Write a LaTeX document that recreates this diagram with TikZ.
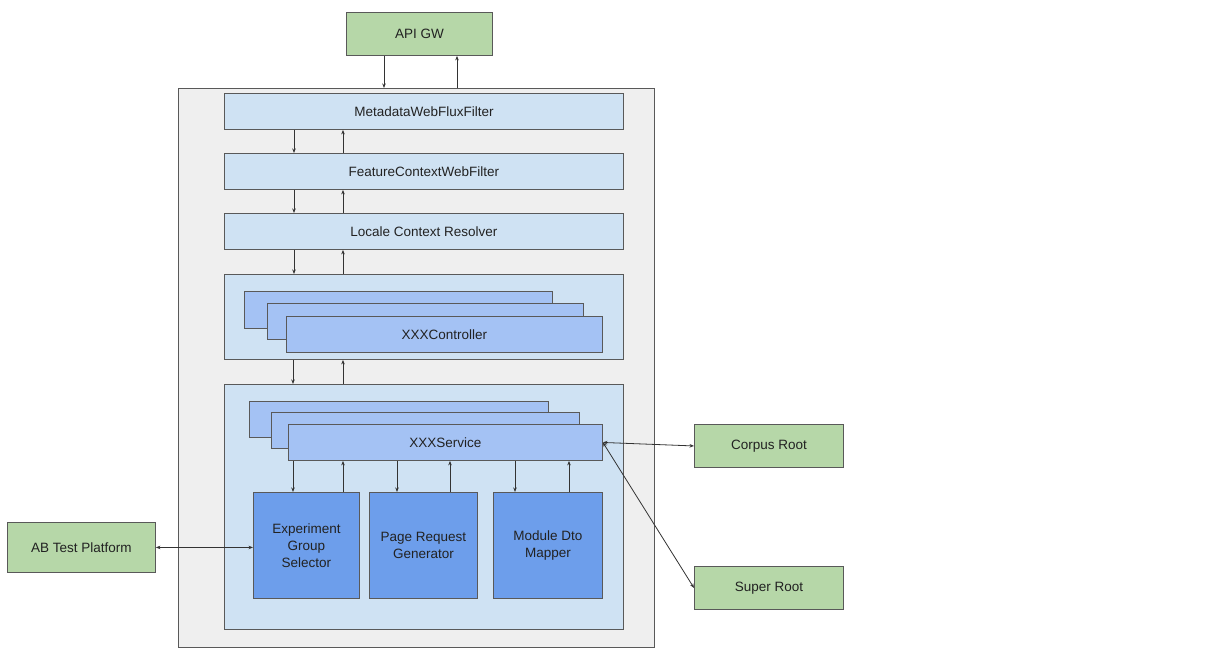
\documentclass[tikz,border=0pt]{standalone}
\usepackage{fontspec}
\setmainfont{Liberation Sans}
\usetikzlibrary{arrows.meta}
\definecolor{gfill}{HTML}{B6D7A8}
\definecolor{lblue}{HTML}{CFE2F3}
\definecolor{mblue}{HTML}{A4C2F4}
\definecolor{dblue}{HTML}{6D9EEB}
\definecolor{outerg}{HTML}{EFEFEF}
\definecolor{bord}{HTML}{595959}
\definecolor{txt}{HTML}{222222}
\definecolor{ln}{HTML}{333333}
\tikzset{
  base/.style={draw=bord, line width=0.9pt, anchor=north west, inner sep=0pt, align=center, text=txt,
    font=\fontsize{13.5}{17}\selectfont},
  extbox/.style={base, fill=gfill},
  outerbox/.style={base, fill=outerg},
  layerbox/.style={base, fill=lblue},
  stackbox/.style={base, fill=mblue},
  compbox/.style={base, fill=dblue},
  arr/.style={draw=ln, line width=0.8pt, -{Stealth[length=4.5pt,width=3.5pt]}},
  dbl/.style={draw=ln, line width=0.8pt, {Stealth[length=4.5pt,width=3.5pt]}-{Stealth[length=4.5pt,width=3.5pt]}},
}
\begin{document}
\begin{tikzpicture}[x=1pt,y=-1pt]
\useasboundingbox[fill=white] (0,0) rectangle (1232,659);
% external
\node[extbox, minimum width=146pt, minimum height=43pt] (api) at (346,12) {API GW};
\node[outerbox, minimum width=476pt, minimum height=559pt] (outer) at (178,88) {};
\node[extbox, minimum width=148pt, minimum height=50pt] (ab) at (7,522) {AB Test Platform};
\node[extbox, minimum width=149pt, minimum height=43pt] (corpus) at (694,424) {Corpus Root};
\node[extbox, minimum width=149pt, minimum height=43pt] (super) at (694,566) {Super Root};
% filters
\node[layerbox, minimum width=399pt, minimum height=36pt] (meta) at (224,93) {MetadataWebFluxFilter};
\node[layerbox, minimum width=399pt, minimum height=36pt] (feat) at (224,153) {FeatureContextWebFilter};
\node[layerbox, minimum width=399pt, minimum height=36pt] (locale) at (224,213) {Locale Context Resolver};
% controllers
\node[layerbox, minimum width=399pt, minimum height=85pt] (ctrlc) at (224,274) {};
\node[stackbox, minimum width=308pt, minimum height=37pt] (c1) at (244,291) {};
\node[stackbox, minimum width=316pt, minimum height=36pt] (c2) at (267,303) {};
\node[stackbox, minimum width=316pt, minimum height=36pt] (c3) at (286,316) {XXXController};
% services
\node[layerbox, minimum width=399pt, minimum height=245pt] (svcc) at (224,384) {};
\node[stackbox, minimum width=299pt, minimum height=36pt] (s1) at (249,401) {};
\node[stackbox, minimum width=308pt, minimum height=36pt] (s2) at (271,412) {};
\node[stackbox, minimum width=314pt, minimum height=36pt] (s3) at (288,424) {XXXService};
\node[compbox, minimum width=106pt, minimum height=106pt] (exp) at (253,492) {Experiment\\Group\\Selector};
\node[compbox, minimum width=108pt, minimum height=106pt] (page) at (369,492) {Page Request\\Generator};
\node[compbox, minimum width=109pt, minimum height=106pt] (mod) at (493,492) {Module Dto\\Mapper};
% connectors
\draw[arr] (384,0 |- api.south) -- (384,0 |- outer.north);
\draw[arr] (457,0 |- outer.north) -- (457,0 |- api.south);
\draw[arr] (294,0 |- meta.south) -- (294,0 |- feat.north);
\draw[arr] (343,0 |- feat.north) -- (343,0 |- meta.south);
\draw[arr] (294,0 |- feat.south) -- (294,0 |- locale.north);
\draw[arr] (343,0 |- locale.north) -- (343,0 |- feat.south);
\draw[arr] (294,0 |- locale.south) -- (294,0 |- ctrlc.north);
\draw[arr] (343,0 |- ctrlc.north) -- (343,0 |- locale.south);
\draw[arr] (293,0 |- ctrlc.south) -- (293,0 |- svcc.north);
\draw[arr] (343,0 |- svcc.north) -- (343,0 |- ctrlc.south);
\draw[arr] (293,0 |- s3.south) -- (293,0 |- exp.north);
\draw[arr] (343,0 |- exp.north) -- (343,0 |- s3.south);
\draw[arr] (397,0 |- s3.south) -- (397,0 |- page.north);
\draw[arr] (450,0 |- page.north) -- (450,0 |- s3.south);
\draw[arr] (515,0 |- s3.south) -- (515,0 |- mod.north);
\draw[arr] (569,0 |- mod.north) -- (569,0 |- s3.south);
\draw[dbl] (s3.east) -- (corpus.west);
\draw[dbl] (s3.east) -- (super.west);
\draw[dbl] (ab.east) -- (ab.east -| exp.west);
\end{tikzpicture}
\end{document}
